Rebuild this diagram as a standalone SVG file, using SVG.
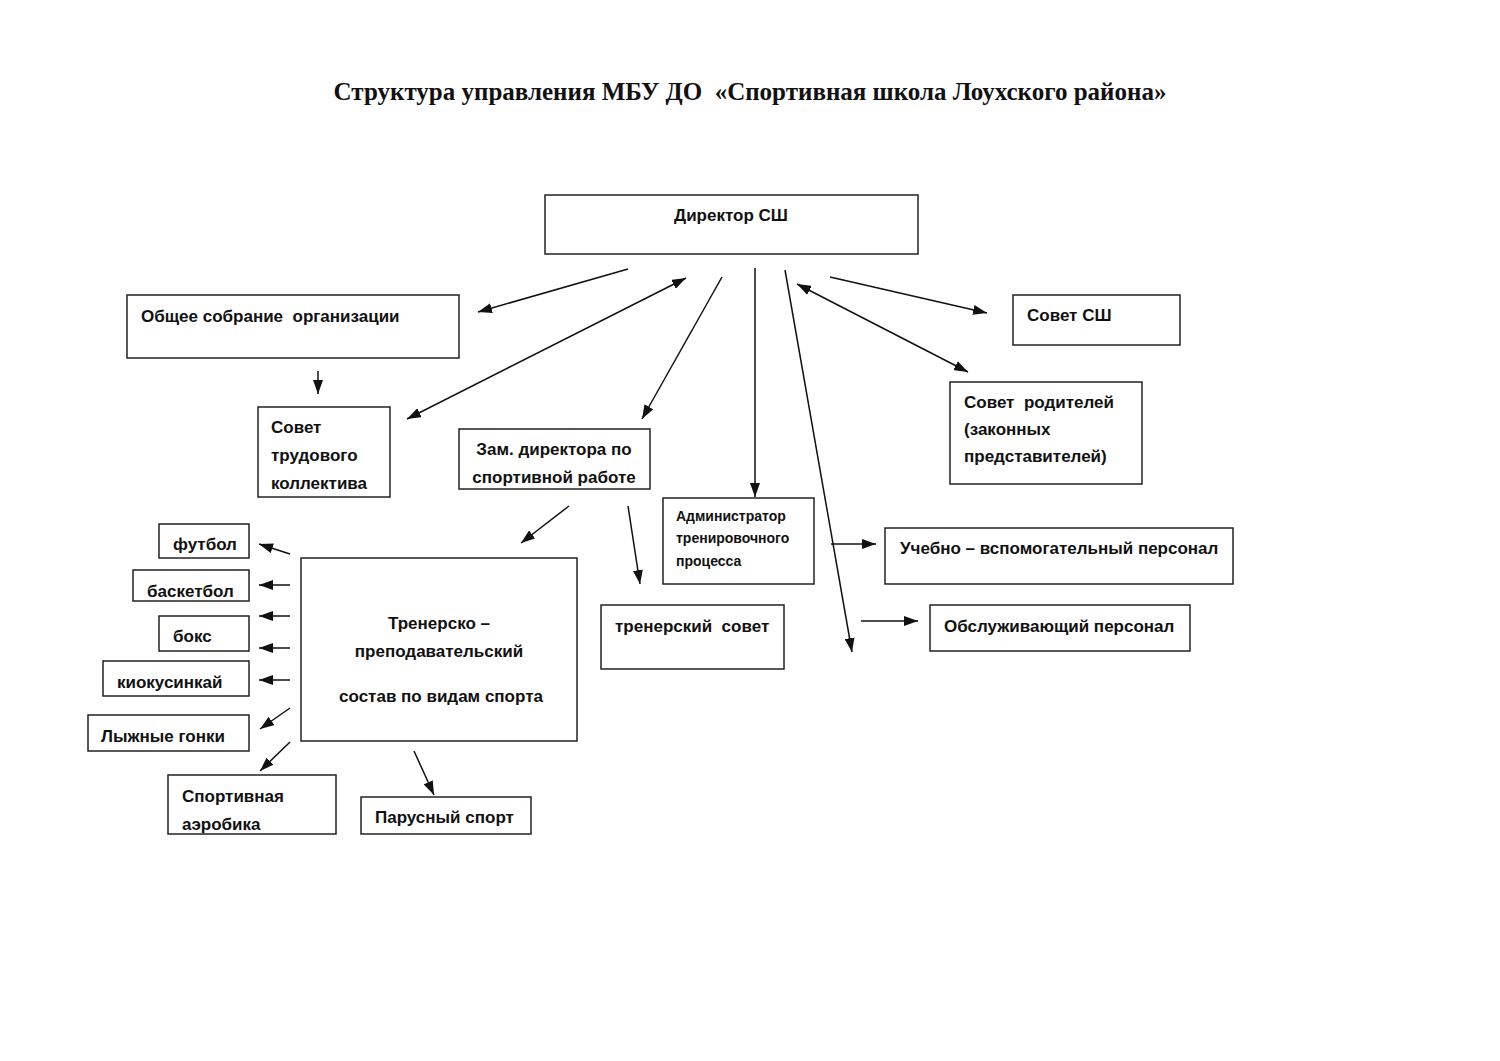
<svg xmlns="http://www.w3.org/2000/svg" width="1500" height="1061" viewBox="0 0 1500 1061">
<style>
.box{fill:#fff;stroke:#222;stroke-width:1.5}
.t{font-family:"Liberation Sans",Arial,sans-serif;font-weight:bold;font-size:17px;fill:#111;white-space:pre}
.s{font-size:14px}
.c{text-anchor:middle}
.title{font-family:"Liberation Serif","Times New Roman",serif;font-weight:bold;font-size:25px;fill:#111;text-anchor:middle;white-space:pre}
.ln{stroke:#111;stroke-width:1.5;fill:none}
</style>
<defs>
<marker id="ah" viewBox="0 0 14 10" refX="14" refY="5" markerWidth="14" markerHeight="10" markerUnits="userSpaceOnUse" orient="auto-start-reverse">
<path d="M0,0 L14,5 L0,10 z" fill="#111"/>
</marker>
<clipPath id="c1"><rect x="258" y="407" width="132" height="89"/></clipPath>
<clipPath id="c2"><rect x="459" y="429" width="191" height="59"/></clipPath>
<clipPath id="c3"><rect x="133" y="570" width="116" height="30"/></clipPath>
<clipPath id="c4"><rect x="168" y="775" width="168" height="58"/></clipPath>
</defs>
<rect width="1500" height="1061" fill="#fff"/>
<text class="title" x="750" y="100">Структура управления МБУ ДО  «Спортивная школа Лоухского района»</text>

<g id="director"><rect class="box" x="545" y="195" width="373" height="59"/><text class="t c" x="731" y="221">Директор СШ</text></g>
<g id="obshchee"><rect class="box" x="127" y="295" width="332" height="63"/><text class="t" x="141" y="322">Общее собрание  организации</text></g>
<g id="sovet-trud"><rect class="box" x="258" y="407" width="132" height="90"/><g clip-path="url(#c1)"><text class="t" x="271" y="433">Совет</text><text class="t" x="271" y="461">трудового</text><text class="t" x="271" y="489">коллектива</text></g></g>
<g id="zam"><rect class="box" x="459" y="429" width="191" height="60"/><g clip-path="url(#c2)"><text class="t c" x="554" y="455">Зам. директора по</text><text class="t c" x="554" y="483">спортивной работе</text></g></g>
<g id="admin"><rect class="box" x="663" y="498" width="151" height="86"/><text class="t s" x="676" y="521">Администратор</text><text class="t s" x="676" y="543">тренировочного</text><text class="t s" x="676" y="566">процесса</text></g>
<g id="sovet-sh"><rect class="box" x="1013" y="295" width="167" height="50"/><text class="t" x="1027" y="321">Совет СШ</text></g>
<g id="sovet-rod"><rect class="box" x="950" y="382" width="192" height="102"/><text class="t" x="964" y="408">Совет  родителей</text><text class="t" x="964" y="435">(законных</text><text class="t" x="964" y="462">представителей)</text></g>
<g id="uchebno"><rect class="box" x="885" y="528" width="348" height="56"/><text class="t" x="900" y="554">Учебно – вспомогательный персонал</text></g>
<g id="obsl"><rect class="box" x="930" y="605" width="260" height="46"/><text class="t" x="944" y="632">Обслуживающий персонал</text></g>
<g id="trener-sovet"><rect class="box" x="601" y="605" width="183" height="64"/><text class="t" x="615" y="632">тренерский  совет</text></g>
<g id="trenersko"><rect class="box" x="301" y="558" width="276" height="183"/><text class="t c" x="439" y="629">Тренерско –</text><text class="t c" x="439" y="657">преподавательский</text><text class="t c" x="441" y="702">состав по видам спорта</text></g>
<g id="futbol"><rect class="box" x="159" y="524" width="90" height="34"/><text class="t" x="173" y="550">футбол</text></g>
<g id="basket"><rect class="box" x="133" y="570" width="116" height="31"/><g clip-path="url(#c3)"><text class="t" x="147" y="597">баскетбол</text></g></g>
<g id="boks"><rect class="box" x="159" y="616" width="90" height="35"/><text class="t" x="173" y="642">бокс</text></g>
<g id="kiok"><rect class="box" x="103" y="661" width="146" height="35"/><text class="t" x="117" y="688">киокусинкай</text></g>
<g id="lyzh"><rect class="box" x="88" y="715" width="161" height="36"/><text class="t" x="101" y="742">Лыжные гонки</text></g>
<g id="aerob"><rect class="box" x="168" y="775" width="168" height="59"/><g clip-path="url(#c4)"><text class="t" x="182" y="802">Спортивная</text><text class="t" x="182" y="830">аэробика</text></g></g>
<g id="parus"><rect class="box" x="361" y="797" width="170" height="37"/><text class="t" x="375" y="823">Парусный спорт</text></g>

<g id="connectors" class="ln">
<line x1="628" y1="269" x2="478" y2="312" marker-end="url(#ah)"/>
<line x1="686" y1="278" x2="407" y2="419" marker-start="url(#ah)" marker-end="url(#ah)"/>
<line x1="722" y1="277" x2="642" y2="419" marker-end="url(#ah)"/>
<line x1="755" y1="268" x2="755" y2="497" marker-end="url(#ah)"/>
<line x1="785" y1="270" x2="852" y2="652" marker-end="url(#ah)"/>
<line x1="797" y1="284" x2="968" y2="372" marker-start="url(#ah)" marker-end="url(#ah)"/>
<line x1="830" y1="277" x2="987" y2="313" marker-end="url(#ah)"/>
<line x1="318" y1="371" x2="318" y2="394" marker-end="url(#ah)"/>
<line x1="569" y1="506" x2="521" y2="543" marker-end="url(#ah)"/>
<line x1="628" y1="506" x2="640" y2="584" marker-end="url(#ah)"/>
<line x1="831" y1="544" x2="876" y2="544" marker-end="url(#ah)"/>
<line x1="861" y1="621" x2="918" y2="621" marker-end="url(#ah)"/>
<line x1="290" y1="554" x2="259" y2="544" marker-end="url(#ah)"/>
<line x1="290" y1="585" x2="259" y2="585" marker-end="url(#ah)"/>
<line x1="290" y1="616" x2="259" y2="616" marker-end="url(#ah)"/>
<line x1="290" y1="648" x2="259" y2="648" marker-end="url(#ah)"/>
<line x1="290" y1="680" x2="259" y2="680" marker-end="url(#ah)"/>
<line x1="290" y1="708" x2="260" y2="729" marker-end="url(#ah)"/>
<line x1="290" y1="742" x2="260" y2="771" marker-end="url(#ah)"/>
<line x1="414" y1="751" x2="434" y2="795" marker-end="url(#ah)"/>
</g>
</svg>
